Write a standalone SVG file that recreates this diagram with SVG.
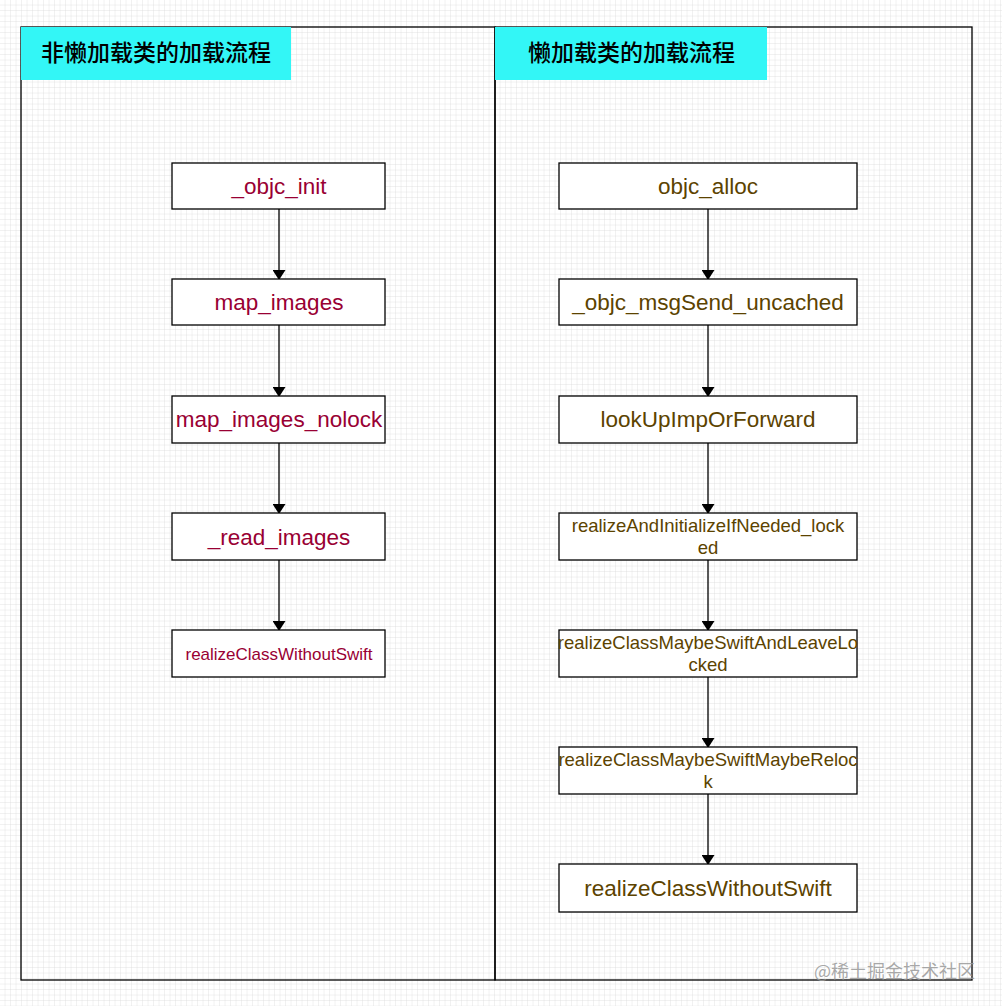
<svg xmlns="http://www.w3.org/2000/svg" width="1002" height="1006" viewBox="0 0 1002 1006">
<defs>
<pattern id="g" width="5.5" height="5.5" patternUnits="userSpaceOnUse"><path d="M5.5 0V5.5H0" fill="none" stroke="#dcdcdc" stroke-width="0.8"/></pattern>
<marker id="a" markerWidth="10" markerHeight="13" refX="9" refY="6.5" orient="auto" markerUnits="userSpaceOnUse"><path d="M0 0L10 6.5L0 13z" fill="#000"/></marker>
<style>
.p{fill:none;stroke:#000;stroke-width:1.3}
.h{fill:#33f6f6}
.ht{font-family:"Noto Sans CJK SC",sans-serif;font-size:23px;font-weight:500;fill:#000}
.n{fill:#fff;stroke:#000;stroke-width:1.3}
.t{font-family:"Liberation Sans",Arial,sans-serif;text-anchor:middle}
.l{fill:#990033}
.r{fill:#5c4300}
.c line{stroke:#000;stroke-width:1.3;marker-end:url(#a)}
</style>
</defs>
<rect width="1002" height="1006" fill="#fff"/>
<rect width="1002" height="1006" fill="url(#g)"/>
<g id="panel-left"><rect class="p" x="21" y="27" width="474" height="953"/><rect class="h" x="21" y="27" width="270" height="53"/><text class="ht" x="41" y="61">非懒加载类的加载流程</text></g>
<g id="panel-right"><rect class="p" x="495" y="27" width="477" height="953"/><rect class="h" x="495" y="27" width="272" height="53"/><text class="ht" x="528" y="61">懒加载类的加载流程</text></g>
<g class="c">
<line x1="279" y1="209" x2="279" y2="279"/>
<line x1="279" y1="325" x2="279" y2="396"/>
<line x1="279" y1="443" x2="279" y2="513"/>
<line x1="279" y1="560" x2="279" y2="630"/>
<line x1="708" y1="209" x2="708" y2="279"/>
<line x1="708" y1="325" x2="708" y2="396"/>
<line x1="708" y1="443" x2="708" y2="513"/>
<line x1="708" y1="560" x2="708" y2="630"/>
<line x1="708" y1="677" x2="708" y2="747"/>
<line x1="708" y1="794" x2="708" y2="864"/>
</g>
<g id="l1"><rect class="n" x="172" y="163" width="213" height="46"/><text class="t l" x="279" y="194" font-size="22.5">_objc_init</text></g>
<g id="l2"><rect class="n" x="172" y="279" width="213" height="46"/><text class="t l" x="279" y="310" font-size="22.5">map_images</text></g>
<g id="l3"><rect class="n" x="172" y="396" width="213" height="47"/><text class="t l" x="279" y="427" font-size="22.5">map_images_nolock</text></g>
<g id="l4"><rect class="n" x="172" y="513" width="213" height="47"/><text class="t l" x="279" y="545" font-size="22.5">_read_images</text></g>
<g id="l5"><rect class="n" x="172" y="630" width="213" height="47"/><text class="t l" x="279" y="660" font-size="17">realizeClassWithoutSwift</text></g>
<g id="r1"><rect class="n" x="559" y="163" width="298" height="46"/><text class="t r" x="708" y="194" font-size="22.5">objc_alloc</text></g>
<g id="r2"><rect class="n" x="559" y="279" width="298" height="46"/><text class="t r" x="708" y="310" font-size="22.5">_objc_msgSend_uncached</text></g>
<g id="r3"><rect class="n" x="559" y="396" width="298" height="47"/><text class="t r" x="708" y="427" font-size="22.5">lookUpImpOrForward</text></g>
<g id="r4"><rect class="n" x="559" y="513" width="298" height="47"/><text class="t r" x="708" y="532" font-size="18.5">realizeAndInitializeIfNeeded_lock</text><text class="t r" x="708" y="554" font-size="18.5">ed</text></g>
<g id="r5"><rect class="n" x="559" y="630" width="298" height="47"/><text class="t r" x="708" y="649" font-size="18.5">realizeClassMaybeSwiftAndLeaveLo</text><text class="t r" x="708" y="671" font-size="18.5">cked</text></g>
<g id="r6"><rect class="n" x="559" y="747" width="298" height="47"/><text class="t r" x="708" y="766" font-size="18.5">realizeClassMaybeSwiftMaybeReloc</text><text class="t r" x="708" y="788" font-size="18.5">k</text></g>
<g id="r7"><rect class="n" x="559" y="864" width="298" height="48"/><text class="t r" x="708" y="896" font-size="22.5">realizeClassWithoutSwift</text></g>
<text x="814" y="978" font-family="Noto Sans CJK SC,sans-serif" font-size="18" fill="#999" fill-opacity="0.85">@稀土掘金技术社区</text>
</svg>
